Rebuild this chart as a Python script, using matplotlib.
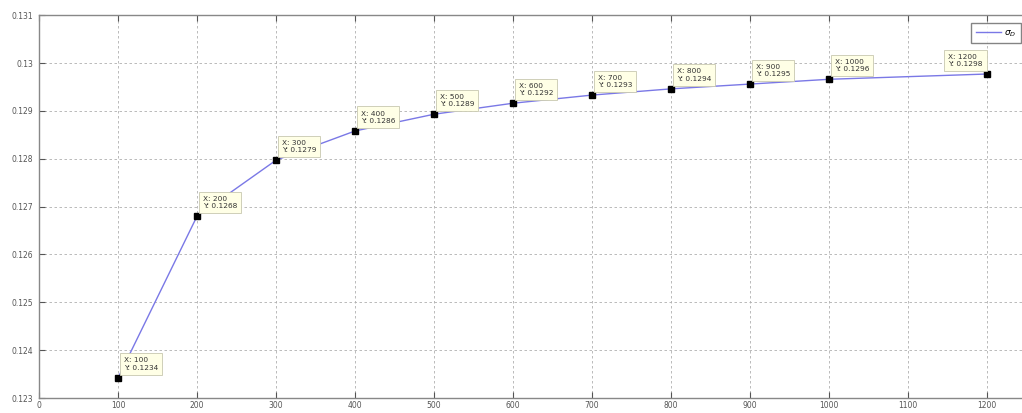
import matplotlib
matplotlib.use("Agg")
import matplotlib.pyplot as plt
from matplotlib.ticker import FormatStrFormatter

# Data
x_vals = [100, 200, 300, 400, 500, 600, 700, 800, 900, 1000, 1200]
y_vals = [0.12342, 0.12680, 0.12797, 0.12858, 0.12893, 0.12916,
          0.12933, 0.12946, 0.12956, 0.12966, 0.12977]
tip_labels = ["0.1234", "0.1268", "0.1279", "0.1286", "0.1289", "0.1292",
              "0.1293", "0.1294", "0.1295", "0.1296", "0.1298"]
legend_label = r"$\sigma_{D}$"
x_ticks = list(range(0, 1201, 100))
y_ticks = [0.123, 0.124, 0.125, 0.126, 0.127, 0.128, 0.129, 0.130, 0.131]

fig = plt.figure(figsize=(10.22, 4.13), dpi=100)
ax = fig.add_axes([0.0382, 0.0363, 1.005, 0.927])

line_color = "#7a78e6"
ax.plot(x_vals, y_vals, color=line_color, lw=1.0, label=legend_label, zorder=3)
ax.plot(x_vals, y_vals, ls="none", marker="s", ms=4, color="black", zorder=4)

for i, (xv, yv, lab) in enumerate(zip(x_vals, y_vals, tip_labels)):
    last = i == len(x_vals) - 1
    ax.annotate(f"X: {xv}\nY: {lab}", xy=(xv, yv),
                xytext=(-3, 5) if last else (4, 5),
                textcoords="offset points",
                ha="right" if last else "left", va="bottom",
                multialignment="left",
                fontsize=5.3, color="#333333", zorder=5, linespacing=1.3,
                bbox=dict(boxstyle="square,pad=0.55", fc="#ffffe6", ec="#c8c8b0", lw=0.6))

ax.set_xlim(0, 1300)
ax.set_ylim(0.123, 0.131)
ax.set_xticks(x_ticks)
ax.set_yticks(y_ticks)
ax.yaxis.set_major_formatter(FormatStrFormatter("%g"))
ax.tick_params(direction="in", length=4, width=0.8, colors="#555555",
               labelsize=5.5, top=True, right=True, pad=2)
ax.tick_params(axis="y", pad=4)
ax.grid(True, ls=(0, (3, 3)), color="#b0b0b0", lw=0.6)
for s in ax.spines.values():
    s.set_color("#888888")
    s.set_linewidth(1.0)

ax.legend(loc="upper left", bbox_to_anchor=(0.903, 0.99), fontsize=6.5,
          frameon=True, fancybox=False, edgecolor="#666666", handlelength=2.8,
          borderpad=0.5, handletextpad=0.4)

fig.savefig("out.png", dpi=100)
